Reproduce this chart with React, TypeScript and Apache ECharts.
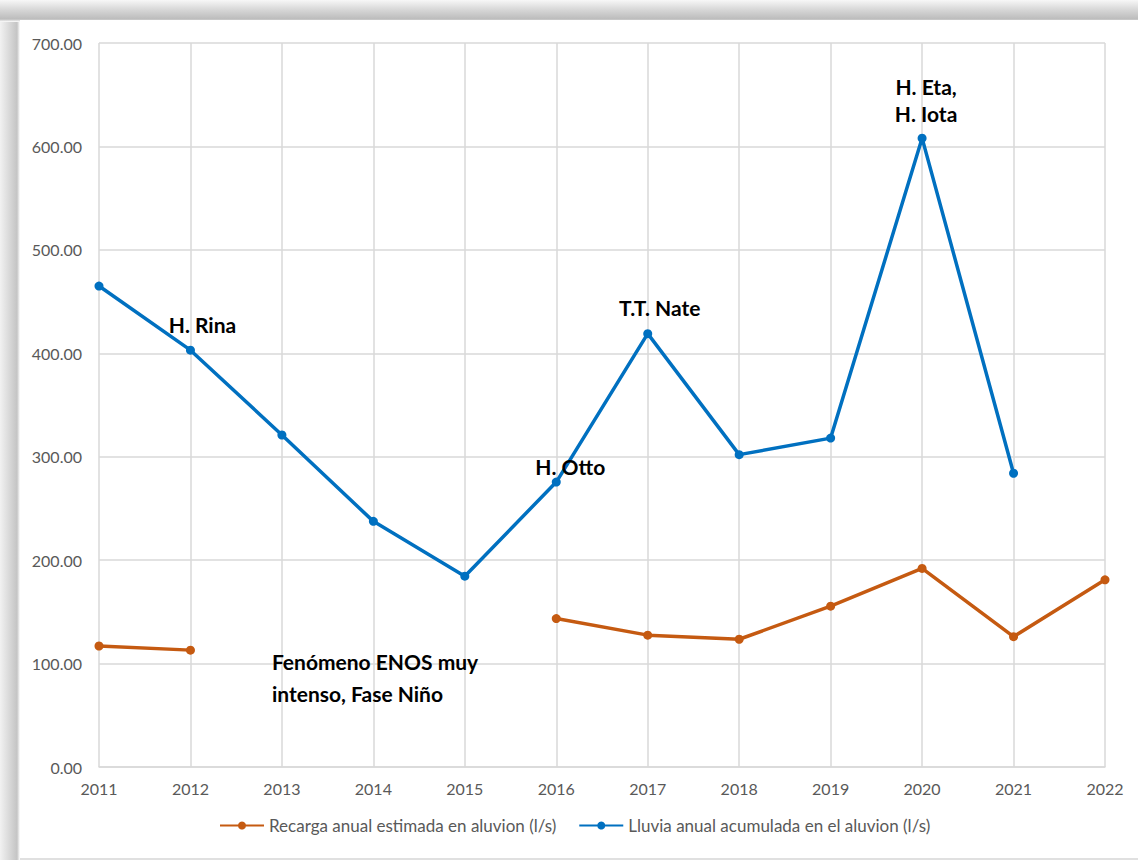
import React, { useEffect, useRef } from "react";
import * as echarts from "echarts";

const years = ["2011", "2012", "2013", "2014", "2015", "2016", "2017", "2018", "2019", "2020", "2021", "2022"];
const recarga: (number | null)[] = [117, 113, null, null, null, 143.5, 127.5, 123.5, 155.5, 192, 126, 181];
const lluvia: (number | null)[] = [465, 403, 321, 237.5, 184.5, 275.5, 419, 302, 318, 608, 284, null];
const lluviaNotes: Record<string, { text: string; offset: [number, number] }> = {
  "2012": { text: "H. Rina", offset: [12, -26] },
  "2016": { text: "H. Otto", offset: [14, -16] },
  "2017": { text: "T.T. Nate", offset: [12, -26] },
  "2020": { text: "H. Eta,\nH. Iota", offset: [4, -38] },
};
const enosNote = "Fenómeno ENOS muy\nintenso, Fase Niño";
const enosAnchor: [string, number] = ["2013", 100];
const yTicks = { min: 0, max: 700, interval: 100 };

const FONT = "Lato, 'Open Sans', sans-serif";

export default function App() {
  const ref = useRef<HTMLDivElement>(null);
  useEffect(() => {
    if (!ref.current) return;
    const chart = echarts.init(ref.current, undefined, { renderer: "svg" });
    const noteLabel = (text: string, offset: [number, number]) => ({
      show: true,
      position: "inside",
      offset,
      formatter: text,
      color: "#000",
      fontFamily: FONT,
      fontWeight: "bold",
      fontSize: 21,
      lineHeight: 27,
      align: "center",
      verticalAlign: "middle",
    });
    chart.setOption({
      animation: false,
      textStyle: { fontFamily: FONT },
      grid: { left: 79, right: 33, top: 23, bottom: 91 },
      legend: {
        left: 194,
        bottom: 19,
        itemWidth: 44,
        itemHeight: 10,
        itemGap: 22,
        textStyle: { color: "#595959", fontSize: 17, fontFamily: FONT },
        data: ["Recarga anual estimada en aluvion (l/s)", "Lluvia anual acumulada en el aluvion (l/s)"],
      },
      xAxis: {
        type: "category",
        data: years,
        boundaryGap: false,
        axisLine: { lineStyle: { color: "#D9D9D9", width: 1.5 } },
        axisTick: { show: false },
        axisLabel: { color: "#595959", fontSize: 16, margin: 13, fontFamily: FONT },
        splitLine: { show: true, lineStyle: { color: "#D9D9D9", width: 1.5 } },
      },
      yAxis: {
        type: "value",
        min: yTicks.min,
        max: yTicks.max,
        interval: yTicks.interval,
        axisLine: { show: false },
        axisTick: { show: false },
        axisLabel: {
          color: "#595959",
          fontSize: 16,
          margin: 17,
          fontFamily: FONT,
          formatter: (v: number) => v.toFixed(2),
        },
        splitLine: { lineStyle: { color: "#D9D9D9", width: 1.5 } },
      },
      series: [
        {
          name: "Recarga anual estimada en aluvion (l/s)",
          type: "line",
          data: recarga,
          connectNulls: false,
          symbol: "circle",
          symbolSize: 9,
          lineStyle: { color: "#C55A11", width: 3.5 },
          itemStyle: { color: "#C55A11" },
          z: 2,
        },
        {
          name: "Lluvia anual acumulada en el aluvion (l/s)",
          type: "line",
          data: lluvia.map((v, i) => {
            const note = lluviaNotes[years[i]];
            return note ? { value: v, label: noteLabel(note.text, note.offset) } : v;
          }),
          symbol: "circle",
          symbolSize: 9,
          lineStyle: { color: "#0070C0", width: 3.5 },
          itemStyle: { color: "#0070C0" },
          z: 3,
          markPoint: {
            symbol: "circle",
            symbolSize: 0,
            silent: true,
            itemStyle: { color: "rgba(0,0,0,0)" },
            data: [
              {
                coord: enosAnchor,
                label: {
                  show: true,
                  position: "inside",
                  formatter: enosNote,
                  color: "#000",
                  fontFamily: FONT,
                  fontWeight: "bold",
                  fontSize: 21,
                  lineHeight: 32,
                  align: "left",
                  verticalAlign: "middle",
                  offset: [-10, 14],
                },
              },
            ],
          },
        },
      ],
    });
    return () => chart.dispose();
  }, []);

  return (
    <div style={{ position: "fixed", left: 0, top: 0, width: 1138, height: 860, background: "#ffffff", overflow: "hidden" }}>
      <div
        style={{
          position: "absolute",
          left: 0,
          top: 0,
          width: 1138,
          height: 860,
          background: "linear-gradient(to right, #f2f2f2, #c4c4c4 17px, #ffffff 20px)",
        }}
      />
      <div
        style={{
          position: "absolute",
          left: 0,
          top: 0,
          width: 1138,
          height: 22,
          background: "linear-gradient(to bottom, #f7f7f7, #d6d6d6 10px, #bcbcbc 19px, #ffffff 22px)",
        }}
      />
      <div
        ref={ref}
        style={{
          position: "absolute",
          left: 20,
          top: 20,
          width: 1118,
          height: 838,
          background: "#ffffff",
          borderBottom: "2px solid #e0e0e0",
        }}
      />
    </div>
  );
}
